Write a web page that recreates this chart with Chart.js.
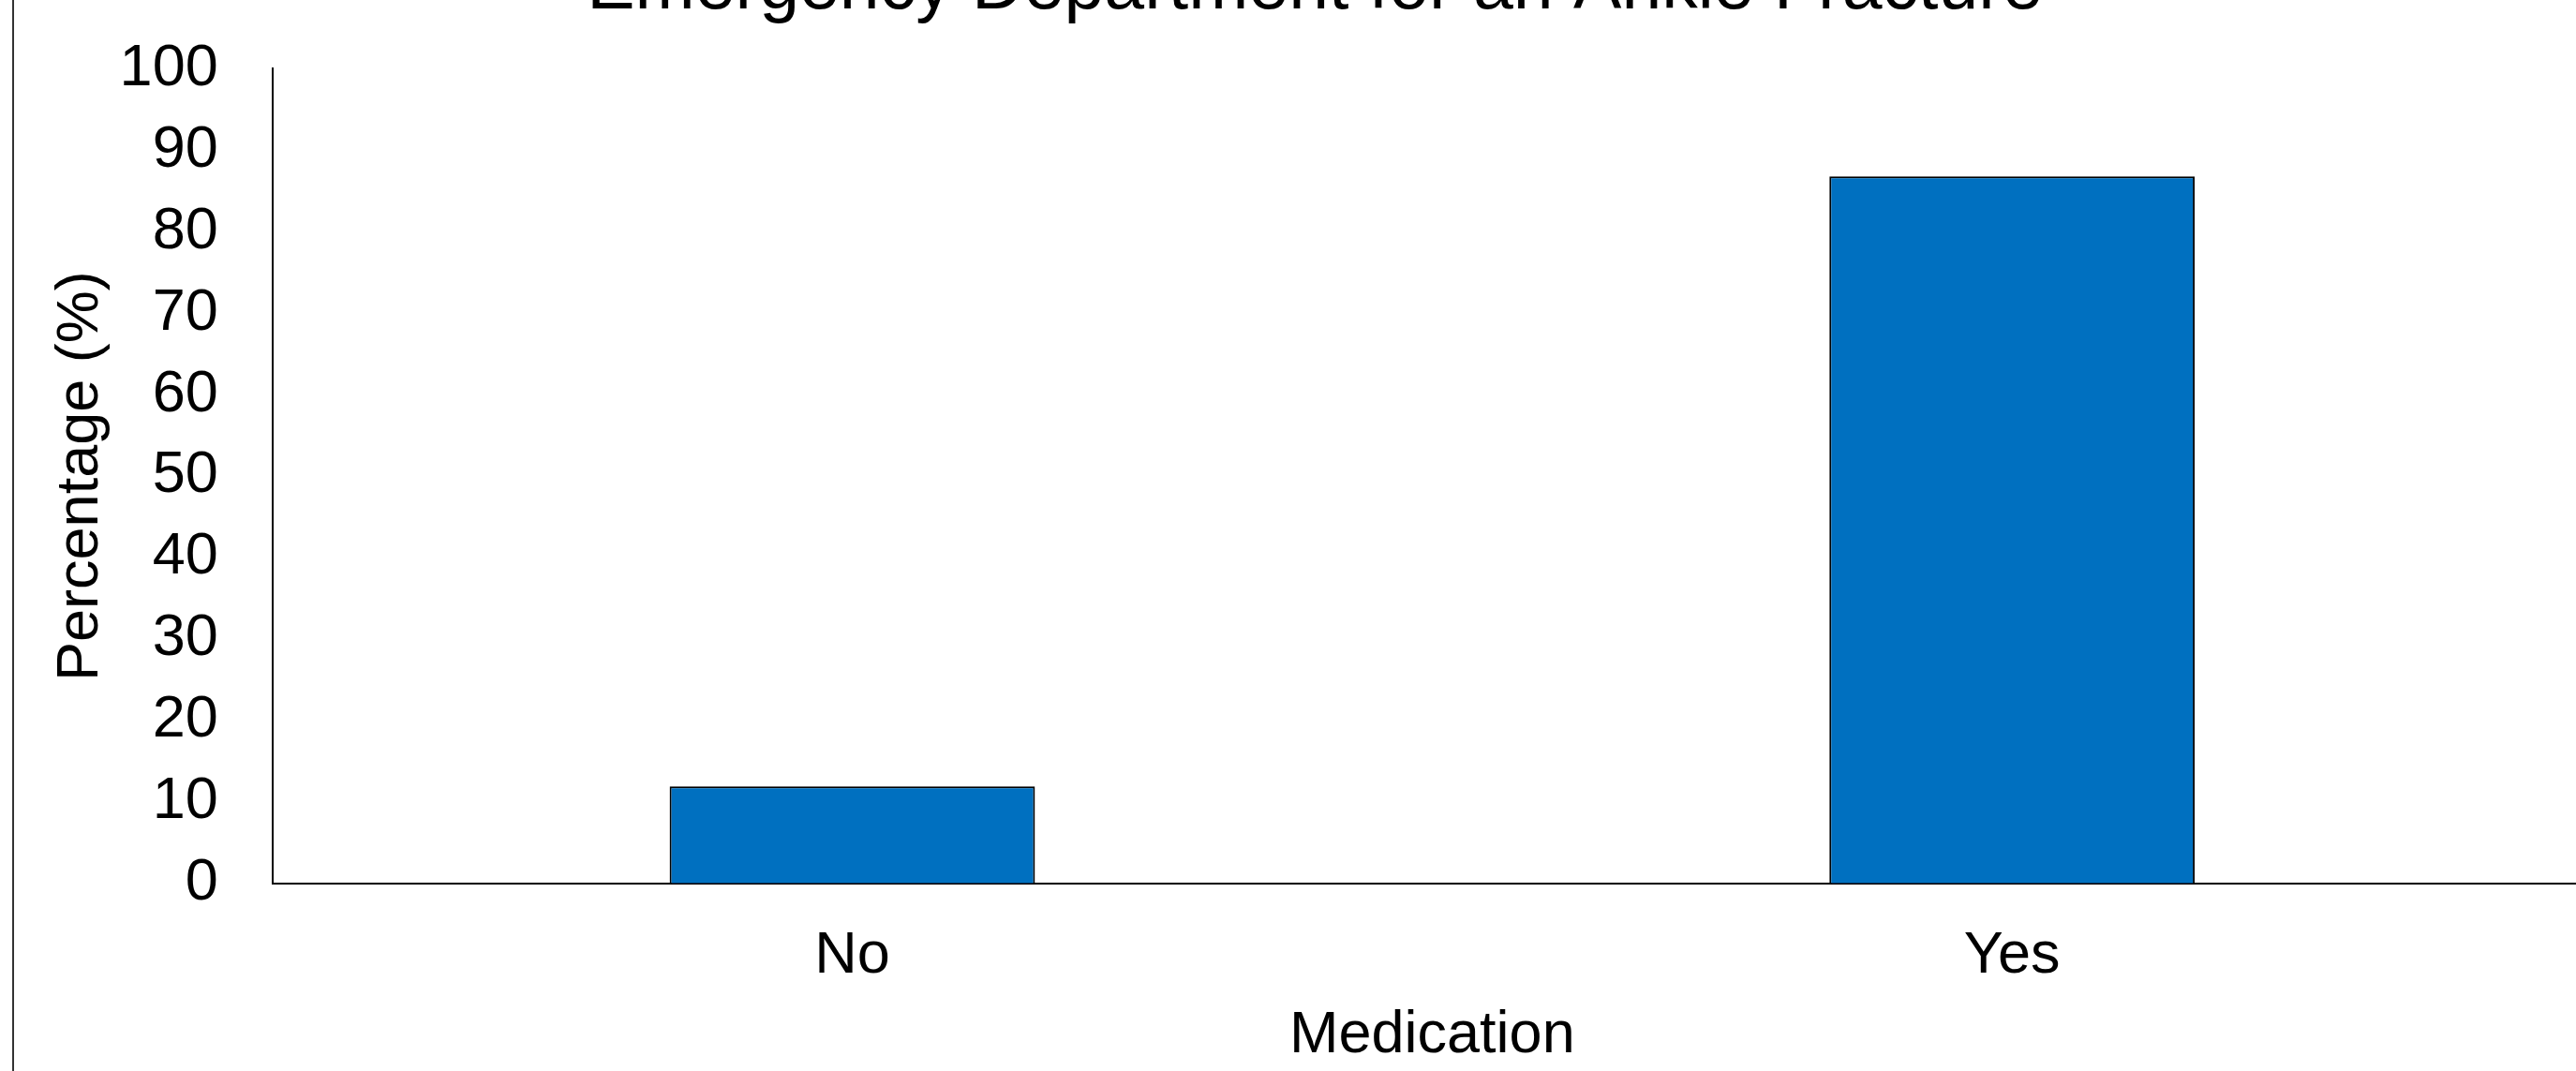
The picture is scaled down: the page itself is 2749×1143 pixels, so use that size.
<!DOCTYPE html>
<html>
<head>
<meta charset="utf-8">
<script src="https://cdn.jsdelivr.net/npm/chart.js@4.4.1/dist/chart.umd.min.js"></script>
<style>
    html, body { margin: 0; padding: 0; background: #fff; overflow: hidden; }
    body { width: 2749px; height: 1143px; position: relative; }
    .chart-box { position: absolute; left: 13px; top: -100px; width: 2780px; height: 1263px; }
</style>
</head>
<body>
<div class="chart-box"><canvas id="chart"></canvas></div>
<script>
    // data
    var categories = ['No', 'Yes'];
    var percentages = [11.9, 86.8];
    var yTicks = [0, 10, 20, 30, 40, 50, 60, 70, 80, 90, 100];

    var titleText = 'Emergency Department for an Ankle Fracture';
    var xTitle = 'Medication';
    var yTitle = 'Percentage (%)';

    var xTickPad = 40;
    var yTickPad = 58;

    Chart.defaults.font.family = '"Liberation Sans", Arial, sans-serif';
    Chart.defaults.color = '#000';

    // outer frame of the figure (only its left edge is in view)
    const frame = {
        id: 'frame',
        afterDraw(chart) {
            const ctx = chart.ctx;
            ctx.save();
            ctx.strokeStyle = '#333';
            ctx.lineWidth = 2;
            ctx.strokeRect(1, 1, chart.width - 2, chart.height - 2);
            ctx.restore();
        }
    };

    new Chart(document.getElementById('chart'), {
        type: 'bar',
        data: {
            labels: categories,
            datasets: [{
                label: yTitle,
                data: percentages,
                backgroundColor: '#0070C0',
                borderColor: '#000',
                borderWidth: 2,
                barPercentage: 0.315,
                categoryPercentage: 1
            }]
        },
        options: {
            responsive: true,
            maintainAspectRatio: false,
            animation: false,
            layout: {
                padding: { top: 0, left: 27, right: 27, bottom: 20 }
            },
            scales: {
                x: {
                    grid: { display: false, drawTicks: false },
                    border: { display: true, color: '#000', width: 2 },
                    ticks: { padding: xTickPad, font: { size: 63 } },
                    title: {
                        display: true,
                        text: xTitle,
                        font: { size: 63 },
                        padding: { top: 9, bottom: 0 }
                    },
                    // chart.js counts the tick padding twice when sizing the axis
                    afterFit: (axis) => { axis.height -= xTickPad; }
                },
                y: {
                    min: 0,
                    max: 100,
                    afterBuildTicks: (axis) => {
                        axis.ticks = yTicks.map(v => ({ value: v }));
                    },
                    grid: { display: false, drawTicks: false },
                    border: { display: true, color: '#000', width: 2 },
                    ticks: { padding: yTickPad, font: { size: 63 } },
                    title: {
                        display: true,
                        text: yTitle,
                        font: { size: 63 },
                        padding: { top: 9, bottom: 3 }
                    },
                    afterFit: (axis) => { axis.width -= yTickPad; }
                }
            },
            plugins: {
                legend: { display: false },
                tooltip: { enabled: false },
                title: {
                    display: true,
                    text: titleText,
                    color: '#000',
                    font: { size: 77, weight: 'normal' },
                    padding: { top: 42, bottom: 39 }
                }
            }
        },
        plugins: [frame]
    });
</script>
</body>
</html>
